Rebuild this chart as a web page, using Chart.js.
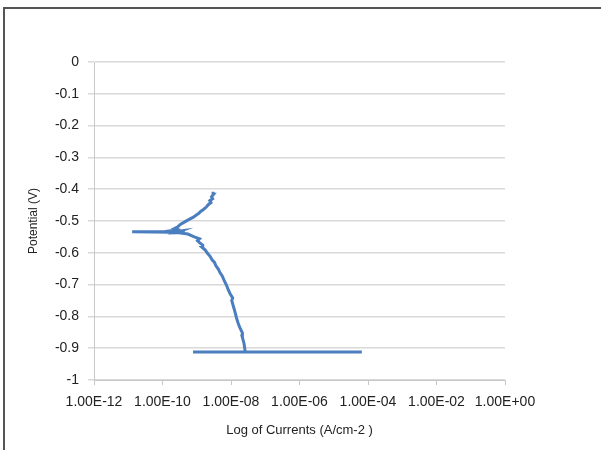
<!DOCTYPE html>
<html>
<head>
<meta charset="utf-8">
<script src="https://cdn.jsdelivr.net/npm/chart.js@4.4.1/dist/chart.umd.min.js"></script>
<style>
  body { margin: 0; background: #fff; }
  #wrap { position: relative; width: 601px; height: 450px; }
  #frame { position: absolute; left: 3px; top: 7px; right: -5px; bottom: -5px;
           border-left: 2px solid #555; border-top: 2px solid #555; }
  canvas { position: absolute; left: 0; top: 0; }
</style>
</head>
<body>
<div id="wrap">
  <div id="frame"></div>
  <canvas id="myChart" width="601" height="450"></canvas>
</div>
<script>
// polarisation curve (current A/cm2, potential V)
var currents = [
  7.8e-10, 6.6e-5, 2.6e-8,
  2.4e-8, 2.1e-8, 2.15e-8, 1.8e-8, 1.6e-8, 1.45e-8, 1.3e-8, 1.15e-8, 1.05e-8, 1.12e-8, 9.5e-9,
  8.3e-9, 7.4e-9, 6.2e-9, 5.5e-9, 4.8e-9, 4.3e-9, 3.6e-9, 3.3e-9, 2.8e-9, 2.45e-9, 2.0e-9,
  1.8e-9, 1.45e-9, 1.5e-9, 1.23e-9, 1.05e-9, 1.2e-9, 8.5e-10, 7.0e-10, 5.5e-10, 3.5e-10,
  4.5e-10, 2.5e-10, 3.5e-10, 1.8e-10, 1.3e-11, 1.2e-10, 2.0e-10, 1.5e-10, 2.6e-10, 2.2e-10,
  2.8e-10, 3.4e-10, 4.6e-10, 6.0e-10, 8.0e-10, 9.5e-10, 1.15e-9, 1.3e-9, 1.6e-9, 1.9e-9,
  2.2e-9, 2.6e-9, 2.4e-9, 2.9e-9, 2.7e-9, 3.1e-9, 3.0e-9
];
var potentials = [
  -0.912, -0.912, -0.911,
  -0.885, -0.862, -0.852, -0.835, -0.820, -0.805, -0.785, -0.765, -0.750, -0.742, -0.730,
  -0.716, -0.702, -0.685, -0.672, -0.663, -0.652, -0.640, -0.630, -0.622, -0.611, -0.600,
  -0.592, -0.583, -0.576, -0.569, -0.562, -0.556, -0.550, -0.546, -0.541, -0.538,
  -0.536, -0.537, -0.531, -0.535, -0.534, -0.533, -0.530, -0.537, -0.527, -0.524,
  -0.518, -0.510, -0.502, -0.495, -0.488, -0.482, -0.476, -0.470, -0.463, -0.456,
  -0.448, -0.442, -0.436, -0.430, -0.424, -0.416, -0.408
];
var xTicks = [1e-12, 1e-10, 1e-8, 1e-6, 1e-4, 1e-2, 1];
var xTickLabels = ["1.00E-12", "1.00E-10", "1.00E-08", "1.00E-06", "1.00E-04", "1.00E-02", "1.00E+00"];

var pts = currents.map(function (c, i) { return { x: c, y: potentials[i] }; });

new Chart("myChart", {
  type: "line",
  data: {
    datasets: [{
      data: pts,
      borderColor: "#4a7ebf",
      borderWidth: 3,
      pointRadius: 0,
      tension: 0,
      fill: false
    }]
  },
  options: {
    responsive: false,
    animation: false,
    layout: { padding: { top: 62, right: 96, bottom: 10, left: 0 } },
    plugins: { legend: { display: false }, tooltip: { enabled: false } },
    scales: {
      x: {
        type: "logarithmic",
        min: 1e-12,
        max: 1,
        afterBuildTicks: function (scale) {
          scale.ticks = xTicks.map(function (v) { return { value: v }; });
        },
        afterFit: function (scale) { scale.height = 60; },
        ticks: {
          autoSkip: false,
          maxRotation: 0,
          color: "#222",
          font: { family: "Liberation Sans", size: 14 },
          padding: 9,
          callback: function (v, i) { return xTickLabels[i]; }
        },
        grid: { drawOnChartArea: false, drawTicks: true, tickLength: 5, color: "#c8c8c8" },
        border: { color: "#c8c8c8", width: 1 },
        title: {
          display: true,
          text: "Log of Currents (A/cm-2 )",
          color: "#222",
          font: { family: "Liberation Sans", size: 13 },
          padding: { top: 4, bottom: 2 }
        }
      },
      y: {
        min: -1,
        max: 0,
        afterBuildTicks: function (scale) {
          var t = [];
          for (var k = 0; k <= 10; k++) t.push({ value: -k / 10 });
          scale.ticks = t;
        },
        afterFit: function (scale) { scale.width = 94; },
        ticks: {
          color: "#222",
          font: { family: "Liberation Sans", size: 14 },
          padding: 9,
          callback: function (v) { return Math.round(v * 10) / 10 === 0 ? "0" : String(Math.round(v * 10) / 10); }
        },
        grid: { color: "#d9d9d9", tickLength: 6, lineWidth: 1.5 },
        border: { color: "#c8c8c8", width: 1 },
        title: {
          display: true,
          text: "Potential (V)",
          color: "#222",
          font: { family: "Liberation Sans", size: 12 },
          padding: { top: 26, bottom: 0 }
        }
      }
    }
  }
});
</script>
</body>
</html>
